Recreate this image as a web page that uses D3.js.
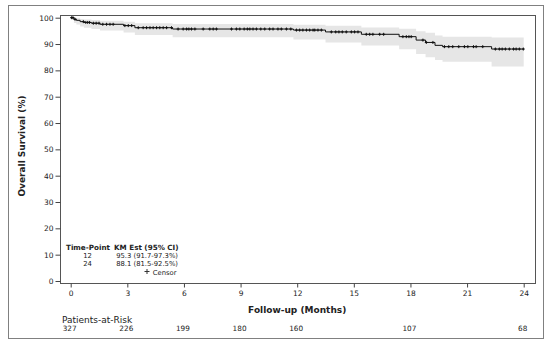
<!DOCTYPE html>
<html lang="en">
<head>
<meta charset="utf-8">
<title>Overall survival KM</title>
<script src="https://d3js.org/d3.v7.min.js"></script>
<style>
  body { margin: 0; background: #fff; }
  text { font-family: "DejaVu Sans", sans-serif; fill: #222; }
</style>
</head>
<body>
<script>
// KM step points: time (months), survival, lower CI, upper CI
var stepTime  = [0, 0.17, 0.3, 0.5, 0.7, 1.1, 1.55, 2.8, 3.4, 5.4, 11.8, 13.5, 15.4, 17.4, 18.3, 18.8, 19.3, 19.7, 22.3];
var stepSurv  = [100, 99.4, 99.0, 98.5, 98.2, 97.9, 97.5, 97.0, 96.2, 95.7, 95.3, 94.6, 93.7, 92.8, 91.5, 90.6, 89.5, 89.0, 88.1];
var stepLower = [100, 98.0, 97.4, 96.7, 96.2, 95.7, 95.1, 94.4, 93.4, 92.6, 91.7, 90.6, 89.4, 88.0, 86.2, 85.0, 83.9, 83.3, 81.5];
var stepUpper = [100, 99.9, 99.8, 99.5, 99.3, 99.1, 98.8, 98.5, 97.9, 97.6, 97.3, 96.9, 96.3, 95.8, 94.9, 94.3, 93.2, 92.8, 92.5];
var endTime = 24;

// censored observations (months)
var censorTimes = [0.05, 0.12, 0.23, 0.67, 0.8, 0.9, 1.0, 1.2, 1.35, 1.5, 1.7, 1.9, 2.08, 2.25,
  2.87, 3.05, 3.23, 3.58, 3.84, 4.02, 4.2, 4.37, 4.55, 4.72, 4.9, 5.08, 5.34, 5.69, 5.96,
  6.14, 6.26, 6.4, 6.58, 7.02, 7.37, 7.55, 7.72, 8.52, 8.78, 8.96, 9.19, 9.36, 9.49, 9.66,
  9.84, 10.07, 10.28, 10.54, 10.72, 10.98, 11.16, 11.43, 11.66, 11.96, 12.13, 12.3, 12.49,
  12.66, 12.84, 12.93, 13.1, 13.28, 13.81, 14.04, 14.21, 14.39, 14.6, 14.87, 15.04, 15.22,
  15.66, 15.84, 16.01, 16.37, 16.58, 17.6, 17.78, 17.92, 18.04, 18.66, 18.84, 19.19, 19.8,
  20.03, 20.24, 20.56, 20.86, 21.04, 21.34, 21.48, 21.83, 22.5, 22.71, 22.86, 23.03, 23.24,
  23.46, 23.6, 23.77, 23.98];

var xTicks = [0, 3, 6, 9, 12, 15, 18, 21, 24];
var yTicks = [0, 10, 20, 30, 40, 50, 60, 70, 80, 90, 100];
var riskTimes = [0, 3, 6, 9, 12, 18, 24];
var riskCounts = [327, 226, 199, 180, 160, 107, 68];

var tableHead = ["Time-Point", "KM Est (95% CI)"];
var tableTimes = ["12", "24"];
var tableEst = ["95.3 (91.7-97.3%)", "88.1 (81.5-92.5%)"];

var w = 550, h = 347;
var frame = {left: 60, top: 15, right: 535, bottom: 283};

var svg = d3.select("body").append("svg")
  .attr("width", w).attr("height", h);

// outer border
svg.append("rect")
  .attr("x", 8.5).attr("y", 5.5).attr("width", 535).attr("height", 333)
  .attr("fill", "none").attr("stroke", "#808080").attr("stroke-width", 1);

var x = d3.scaleLinear().domain([0, 24]).range([70.7, 523.7]);
var y = d3.scaleLinear().domain([0, 100]).range([281, 17.7]);

// build step data
var steps = stepTime.map(function(t, i) {
  return {t: t, s: stepSurv[i], lo: stepLower[i], hi: stepUpper[i]};
});
var stepped = steps.concat([{t: endTime, s: stepSurv[stepSurv.length - 1],
  lo: stepLower[stepLower.length - 1], hi: stepUpper[stepUpper.length - 1]}]);

// CI band
var band = d3.area()
  .curve(d3.curveStepAfter)
  .x(function(d) { return x(d.t); })
  .y0(function(d) { return y(d.lo); })
  .y1(function(d) { return y(d.hi); });

svg.append("path")
  .datum(stepped)
  .attr("d", band)
  .attr("fill", "#e6e6e6");

// KM line
var line = d3.line()
  .curve(d3.curveStepAfter)
  .x(function(d) { return x(d.t); })
  .y(function(d) { return y(d.s); });

svg.append("path")
  .datum(stepped)
  .attr("d", line)
  .attr("fill", "none")
  .attr("stroke", "#111")
  .attr("stroke-width", 1);

// censor marks
function survAt(t) {
  var s = stepSurv[0];
  for (var i = 0; i < stepTime.length; i++) {
    if (stepTime[i] <= t) s = stepSurv[i];
  }
  return s;
}

svg.append("g").selectAll("path")
  .data(censorTimes)
  .enter()
  .append("path")
  .attr("transform", function(d) { return "translate(" + x(d) + "," + y(survAt(d)) + ")"; })
  .attr("d", "M-1.5,0H1.5M0,-1.5V1.5")
  .attr("stroke", "#111")
  .attr("stroke-width", 1);

// plot frame
svg.append("rect")
  .attr("x", frame.left + 0.5).attr("y", frame.top + 0.5)
  .attr("width", frame.right - frame.left).attr("height", frame.bottom - frame.top)
  .attr("fill", "none").attr("stroke", "#555").attr("stroke-width", 1);

// axes
var yAxis = d3.axisLeft(y).tickValues(yTicks).tickSize(5).tickPadding(2);
var gy = svg.append("g")
  .attr("transform", "translate(" + (frame.left + 0.5) + ",0)")
  .call(yAxis);
gy.select(".domain").remove();
gy.selectAll("line").attr("stroke", "#444");
gy.selectAll("text").attr("font-size", "7.5px").attr("font-family", "DejaVu Sans").attr("fill", "#222");

var xAxis = d3.axisBottom(x).tickValues(xTicks).tickSize(4).tickPadding(3);
var gx = svg.append("g")
  .attr("transform", "translate(0," + (frame.bottom + 0.5) + ")")
  .call(xAxis);
gx.select(".domain").remove();
gx.selectAll("line").attr("stroke", "#444");
gx.selectAll("text").attr("font-size", "7.5px").attr("font-family", "DejaVu Sans").attr("fill", "#222");

// axis titles
svg.append("text")
  .attr("x", (x(0) + x(24)) / 2).attr("y", 313)
  .attr("text-anchor", "middle")
  .attr("font-size", "9px").attr("font-weight", "bold")
  .text("Follow-up (Months)");

svg.append("text")
  .attr("transform", "translate(25,146) rotate(-90)")
  .attr("text-anchor", "middle")
  .attr("font-size", "9px").attr("font-weight", "bold")
  .text("Overall Survival (%)");

// at-risk
svg.append("text")
  .attr("x", 62).attr("y", 323)
  .attr("font-family", "Liberation Sans").attr("font-size", "9px")
  .text("Patients-at-Risk");

svg.append("g").selectAll("text")
  .data(riskTimes)
  .enter()
  .append("text")
  .attr("x", function(d) { return x(d) - 1; })
  .attr("y", 330.5)
  .attr("text-anchor", "middle")
  .attr("font-size", "7.3px")
  .text(function(d, i) { return riskCounts[i]; });

// inset table
var tbl = svg.append("g").attr("font-size", "6.8px");
tbl.append("text").attr("x", 66).attr("y", 250).attr("font-size", "7.2px").attr("font-weight", "bold").text(tableHead[0]);
tbl.append("text").attr("x", 114).attr("y", 250).attr("font-size", "7.2px").attr("font-weight", "bold").text(tableHead[1]);
tableTimes.forEach(function(t, i) {
  tbl.append("text").attr("x", 87.5).attr("y", 258 + i * 8).attr("text-anchor", "middle").text(t);
  tbl.append("text").attr("x", 178).attr("y", 258 + i * 8).attr("text-anchor", "end").text(tableEst[i]);
});
tbl.append("path")
  .attr("d", "M144.5,271.5H149.5M147,269V274")
  .attr("stroke", "#333").attr("stroke-width", 1);
tbl.append("text").attr("x", 176.5).attr("y", 274.5).attr("text-anchor", "end").text("Censor");
</script>
</body>
</html>
